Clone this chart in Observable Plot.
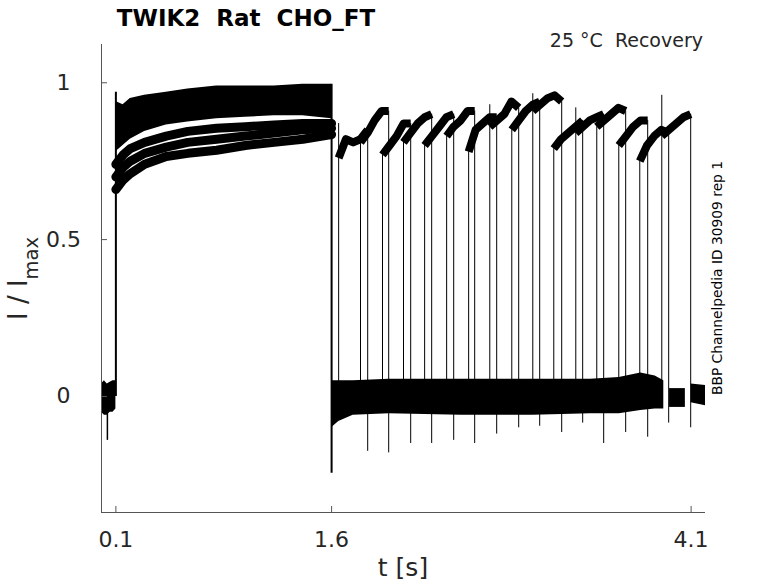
<!DOCTYPE html>
<html><head><meta charset="utf-8">
<script src="https://cdn.jsdelivr.net/npm/d3@7"></script>
<script src="https://cdn.jsdelivr.net/npm/@observablehq/plot@0.6"></script>
<style>
body{margin:0;background:#fff;}
#chart{width:778px;height:583px;}
text{font-family:"DejaVu Sans",sans-serif;}
</style></head><body><div id="chart"></div>
<script>
// ---- scales / ticks ----
const xDomain = [0, 4.2];
const yDomain = [-0.37, 1.122];
const xTicks = [0.1, 1.6, 4.1];
const yTicks = [0, 0.5, 1];

// ---- baseline before the conditioning step ----
const preT  = [0, 0.02, 0.04, 0.06, 0.08, 0.1];
const preHi = [0.04, 0.05, 0.04, 0.045, 0.05, 0.05];
const preLo = [-0.05, -0.06, -0.06, -0.05, -0.05, -0.04];
const preSpikeT = [0.041];
const preSpikeV = [-0.14];

// ---- conditioning pulse (0.1 – 1.6 s) ----
const condT      = [0.1, 0.15, 0.2, 0.3, 0.45, 0.6, 0.8, 1.0, 1.2, 1.4, 1.6];
const condTop    = [0.94, 0.93, 0.95, 0.96, 0.97, 0.98, 0.99, 0.99, 0.99, 0.995, 0.995];
const condBottom = [0.78, 0.80, 0.82, 0.845, 0.865, 0.875, 0.885, 0.89, 0.895, 0.895, 0.885];
const slowA = [0.66, 0.69, 0.71, 0.74, 0.765, 0.775, 0.785, 0.80, 0.81, 0.82, 0.835];
const slowB = [0.70, 0.73, 0.75, 0.775, 0.795, 0.81, 0.82, 0.83, 0.84, 0.85, 0.855];
const slowC = [0.74, 0.77, 0.79, 0.81, 0.83, 0.845, 0.855, 0.86, 0.865, 0.87, 0.87];
const stepOnT = 0.1,  stepOnTop = 0.97;
const stepOffT = 1.6, stepOffTop = 0.995, stepOffLow = -0.245;

// ---- baseline during recovery ----
const recSeg = ["a","a","a","a","a","a","a","a","a","a","a","b","b","c","c"];
const recT   = [1.6, 1.65, 1.75, 2.0, 2.5, 3.0, 3.4, 3.6, 3.75, 3.85, 3.91, 3.95, 4.06, 4.10, 4.2];
const recHi  = [0.05, 0.05, 0.05, 0.055, 0.055, 0.055, 0.055, 0.06, 0.075, 0.065, 0.05, 0.025, 0.025, 0.04, 0.035];
const recLo  = [-0.10, -0.08, -0.06, -0.055, -0.06, -0.06, -0.055, -0.055, -0.045, -0.04, -0.04, -0.035, -0.035, -0.02, -0.03];

// ---- test pulses (16 sweeps) ----
const sweepOn  = [1.649,1.801,1.954,2.100,2.247,2.400,2.553,2.700,2.853,2.999,3.145,3.298,3.444,3.597,3.743,3.896];
const sweepOff = [1.851,1.997,2.150,2.296,2.449,2.595,2.748,2.901,3.047,3.200,3.346,3.492,3.645,3.798,3.944,4.097];
const sweepFrac = [0, 0.25, 0.5, 0.75, 1];
const sweepVals = [
  [0.76, 0.82, 0.81, 0.82, 0.85],
  [0.81, 0.84, 0.88, 0.91, 0.91],
  [0.77, 0.80, 0.83, 0.87, 0.87],
  [0.81, 0.84, 0.87, 0.89, 0.90],
  [0.80, 0.83, 0.86, 0.89, 0.90],
  [0.83, 0.86, 0.88, 0.91, 0.91],
  [0.78, 0.85, 0.87, 0.89, 0.89],
  [0.86, 0.88, 0.90, 0.94, 0.92],
  [0.85, 0.88, 0.91, 0.93, 0.94],
  [0.91, 0.93, 0.95, 0.96, 0.94],
  [0.79, 0.82, 0.84, 0.86, 0.88],
  [0.84, 0.86, 0.88, 0.89, 0.90],
  [0.86, 0.88, 0.90, 0.92, 0.91],
  [0.80, 0.83, 0.86, 0.88, 0.88],
  [0.75, 0.80, 0.83, 0.85, 0.84],
  [0.83, 0.85, 0.87, 0.89, 0.90]
];
const onPeak = [0.87, 0.81, 0.77, 0.81, 0.80, 0.83, 0.78, 0.93, 0.85, 0.965, 0.79, 0.92, 0.86, 0.80, 0.75, 0.96];
const offLow = [-0.175, -0.18, -0.15, -0.15, -0.14, -0.15, -0.12, -0.10, -0.095, -0.115, -0.085, -0.15, -0.115, -0.13, -0.085, -0.10];

// ---- texts ----
const titleText = "TWIK2  Rat  CHO_FT";
const subText = "25 °C  Recovery";
const sideText = "BBP Channelpedia ID 30909 rep 1";
const xLabel = "t [s]";

// ---- build tables ----
const pre = preT.map((t, i) => ({t, hi: preHi[i], lo: preLo[i]}));
const cond = condT.map((t, i) => ({t, top: condTop[i], bot: condBottom[i]}));
const slow = [];
[slowA, slowB, slowC].forEach((arr, k) => arr.forEach((v, i) => slow.push({t: condT[i], v, k})));
const rec = recT.map((t, i) => ({t, hi: recHi[i], lo: recLo[i], seg: recSeg[i]}));
const sweeps = [];
sweepVals.forEach((vals, k) => vals.forEach((v, i) => sweeps.push({
  t: sweepOn[k] + sweepFrac[i] * (sweepOff[k] - sweepOn[k]), v, k})));
const onRules = sweepOn.map((t, k) => ({t, y1: 0, y2: onPeak[k]}));
const offRules = sweepOff.map((t, k) => ({t, y1: offLow[k], y2: sweepVals[k][sweepVals[k].length - 1]}));

const ink = "#000";
const axisCol = "#555";
const labelCol = "#262626";

const plot = Plot.plot({
  width: 778, height: 583,
  marginLeft: 101, marginRight: 73, marginTop: 44, marginBottom: 71,
  style: {fontFamily: "DejaVu Sans", background: "#fff"},
  x: {domain: xDomain},
  y: {domain: yDomain},
  marks: [
    // pre baseline
    Plot.areaY(pre, {x: "t", y1: "lo", y2: "hi", fill: ink}),
    Plot.ruleX(preSpikeT.map((t, i) => ({t, v: preSpikeV[i]})), {x: "t", y1: 0, y2: "v", stroke: ink, strokeWidth: 1.5}),
    // conditioning
    Plot.areaY(cond, {x: "t", y1: "bot", y2: "top", fill: ink}),
    Plot.line(slow, {x: "t", y: "v", z: "k", stroke: ink, strokeWidth: 9, strokeLinejoin: "round"}),
    Plot.ruleX([{t: stepOnT, a: 0, b: stepOnTop}], {x: "t", y1: "a", y2: "b", stroke: ink, strokeWidth: 2}),
    Plot.ruleX([{t: stepOffT, a: stepOffLow, b: stepOffTop}], {x: "t", y1: "a", y2: "b", stroke: ink, strokeWidth: 2}),
    // recovery baseline
    Plot.areaY(rec, {x: "t", y1: "lo", y2: "hi", z: "seg", fill: ink}),
    // test pulses
    Plot.ruleX(onRules, {x: "t", y1: "y1", y2: "y2", stroke: ink, strokeWidth: 1}),
    Plot.ruleX(offRules, {x: "t", y1: "y1", y2: "y2", stroke: ink, strokeWidth: 1}),
    Plot.line(sweeps, {x: "t", y: "v", z: "k", stroke: ink, strokeWidth: 8, strokeLinejoin: "round", strokeLinecap: "butt"}),
    // axes
    Plot.ruleX([xDomain[0]], {stroke: axisCol, strokeWidth: 1}),
    Plot.ruleY([yDomain[0]], {stroke: axisCol, strokeWidth: 1}),
    Plot.ruleX(xTicks, {x: d => d, y1: yDomain[0], y2: yDomain[0], insetBottom: 6, stroke: axisCol}),
    Plot.ruleY(yTicks, {y: d => d, x1: xDomain[0], x2: xDomain[0], insetLeft: 6, stroke: axisCol}),
    Plot.axisX({ticks: xTicks, tickSize: 0, tickPadding: 19, tickFormat: d => String(d), fontSize: 22, fill: labelCol, label: null}),
    Plot.axisY({ticks: yTicks, tickSize: 0, tickPadding: 38, textAnchor: "middle", tickFormat: d => String(d), fontSize: 22, fill: labelCol, label: null})
  ]
});
document.getElementById("chart").appendChild(plot);

const svg = d3.select(plot);
svg.append("text").attr("x", 246).attr("y", 26).attr("text-anchor", "middle")
  .attr("font-size", 23).attr("font-weight", "bold").attr("fill", "#000")
  .style("white-space", "pre").text(titleText);
svg.append("text").attr("x", 703).attr("y", 47).attr("text-anchor", "end")
  .attr("font-size", 19).attr("fill", labelCol)
  .style("white-space", "pre").text(subText);
svg.append("text").attr("transform", "translate(722,278) rotate(-90)").attr("text-anchor", "middle")
  .attr("font-size", 13.8).attr("fill", "#000").text(sideText);
svg.append("text").attr("x", 403).attr("y", 576).attr("text-anchor", "middle")
  .attr("font-size", 25).attr("fill", labelCol).text(xLabel);
const yl = svg.append("text").attr("transform", "translate(27,320) rotate(-90)").attr("text-anchor", "start")
  .attr("font-size", 26).attr("fill", labelCol).style("white-space", "pre");
yl.append("tspan").text("I / I");
yl.append("tspan").attr("font-size", 19.5).attr("dy", 11).text("max");
</script>
</body></html>
